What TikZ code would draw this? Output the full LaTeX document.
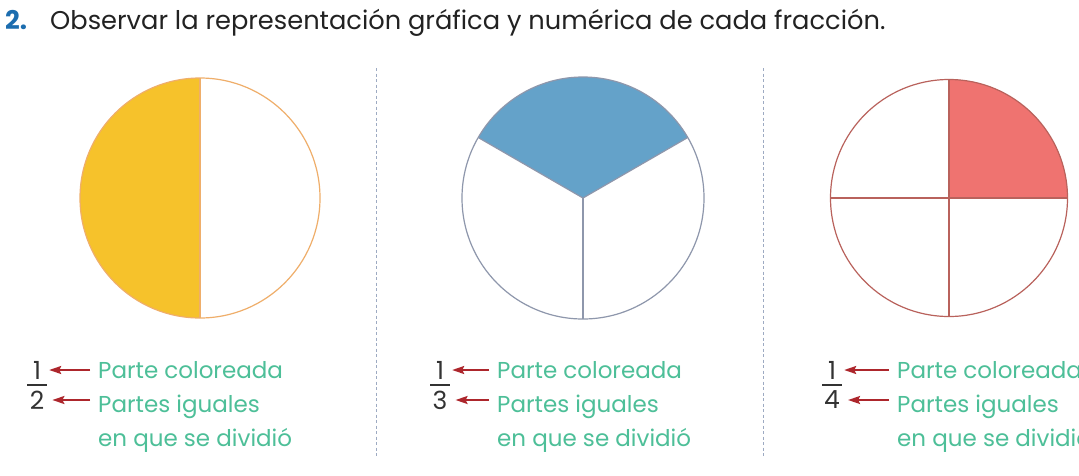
\documentclass[tikz,border=0pt]{standalone}
\usepackage{fontspec}
\setmainfont{Poppins}
\usetikzlibrary{arrows.meta,calc}
\definecolor{titleblue}{HTML}{1C6DAF}
\definecolor{titlegray}{HTML}{222222}
\definecolor{yelfill}{HTML}{F6C22B}
\definecolor{yelline}{HTML}{EFAE6A}
\definecolor{bluefill}{HTML}{64A2C9}
\definecolor{blueline}{HTML}{8E97AC}
\definecolor{redfill}{HTML}{EF7370}
\definecolor{redline}{HTML}{B9625C}
\definecolor{txtgreen}{HTML}{4DBF98}
\definecolor{arrred}{HTML}{AD262C}
\definecolor{dashcol}{HTML}{9DAAC2}
\definecolor{digitcol}{HTML}{333333}
\tikzset{
  titlefont/.style={font=\fontsize{25.7}{30}\selectfont, inner sep=0pt, anchor=base west},
  label/.style={font=\fontsize{23}{27}\selectfont, text=txtgreen, inner sep=0pt, anchor=base west},
  digit/.style={font=\fontsize{25}{29}\selectfont, text=digitcol, inner sep=0pt},
  fracbar/.style={draw=digitcol, line width=1.4pt},
  pointer/.style={draw=arrred, line width=2pt, -{Stealth[length=12pt,width=8pt,inset=2pt]}, shorten >=8pt, shorten <=8pt},
  divider/.style={draw=dashcol, line width=1pt, dash pattern=on 3pt off 2.5pt},
}
\begin{document}
\begin{tikzpicture}[x=1pt,y=1pt]
\useasboundingbox (0,0) rectangle (1079,-475);
\fill[white] (0,0) rectangle (1079,-475);

% title
\node[titlefont, text=titleblue, font=\fontsize{25.7}{30}\selectfont\bfseries] (tnum) at (5,-29) {2.};
\node[titlefont, text=titlegray] (ttext) at (50,-29) {Observar la representación gráfica y numérica de cada fracción.};

% dashed dividers
\coordinate (d1a) at (376,-68); \coordinate (d1b) at (376,-456);
\coordinate (d2a) at (763,-68); \coordinate (d2b) at (763,-456);
\draw[divider] (d1a) -- (d1b);
\draw[divider] (d2a) -- (d2b);

% circle 1 : one half
\coordinate (c1) at (200,-198);
\fill[yelfill] (c1) ++(0,120) arc[start angle=90, end angle=270, radius=120] -- cycle;
\draw[yelline, line width=1.2pt] (c1) circle[radius=120];
\draw[yelline, line width=1.2pt] (c1) ++(0,120) -- ++(0,-240);

% circle 2 : one third
\coordinate (c2) at (583,-198);
\fill[bluefill] (c2) -- ++(30:121) arc[start angle=30, end angle=150, radius=121] -- cycle;
\draw[blueline, line width=1.2pt] (c2) circle[radius=121];
\draw[blueline, line width=1.2pt] (c2) -- ++(30:121);
\draw[blueline, line width=1.2pt] (c2) -- ++(150:121);
\draw[blueline, line width=1.2pt] (c2) -- ++(0,-121);

% circle 3 : one quarter
\coordinate (c3) at (949,-198);
\fill[redfill] (c3) -- ++(118.5,0) arc[start angle=0, end angle=90, radius=118.5] -- cycle;
\draw[redline, line width=1.2pt] (c3) circle[radius=118.5];
\draw[redline, line width=1.2pt] (c3) ++(-118.5,0) -- ++(237,0);
\draw[redline, line width=1.2pt] (c3) ++(0,118.5) -- ++(0,-237);

% fraction 1/2
\node[digit] (n1) at (37,-370) {1};
\node[digit] (m1) at (37,-400) {2};
\draw[fracbar] ([xshift=-10pt]$(n1)!0.5!(m1)$) -- ([xshift=10pt]$(n1)!0.5!(m1)$);
\node[label] (a1) at (98,-378) {Parte coloreada};
\node[label] (b1) at (98,-412) {Partes iguales};
\node[label] (e1) at (98,-446) {en que se dividió};
\draw[pointer] (a1.west |- n1.east) -- (n1.east);
\draw[pointer] (a1.west |- m1.east) -- (m1.east);

% fraction 1/3
\node[digit] (n2) at (440,-370) {1};
\node[digit] (m2) at (440,-400) {3};
\draw[fracbar] ([xshift=-10pt]$(n2)!0.5!(m2)$) -- ([xshift=10pt]$(n2)!0.5!(m2)$);
\node[label] (a2) at (497,-378) {Parte coloreada};
\node[label] (b2) at (497,-412) {Partes iguales};
\node[label] (e2) at (497,-446) {en que se dividió};
\draw[pointer] (a2.west |- n2.east) -- (n2.east);
\draw[pointer] (a2.west |- m2.east) -- (m2.east);

% fraction 1/4
\node[digit] (n3) at (832,-370) {1};
\node[digit] (m3) at (832,-400) {4};
\draw[fracbar] ([xshift=-10pt]$(n3)!0.5!(m3)$) -- ([xshift=10pt]$(n3)!0.5!(m3)$);
\node[label] (a3) at (897,-378) {Parte coloreada};
\node[label] (b3) at (897,-412) {Partes iguales};
\node[label] (e3) at (897,-446) {en que se dividió};
\draw[pointer] (a3.west |- n3.east) -- (n3.east);
\draw[pointer] (a3.west |- m3.east) -- (m3.east);
\end{tikzpicture}
\end{document}
